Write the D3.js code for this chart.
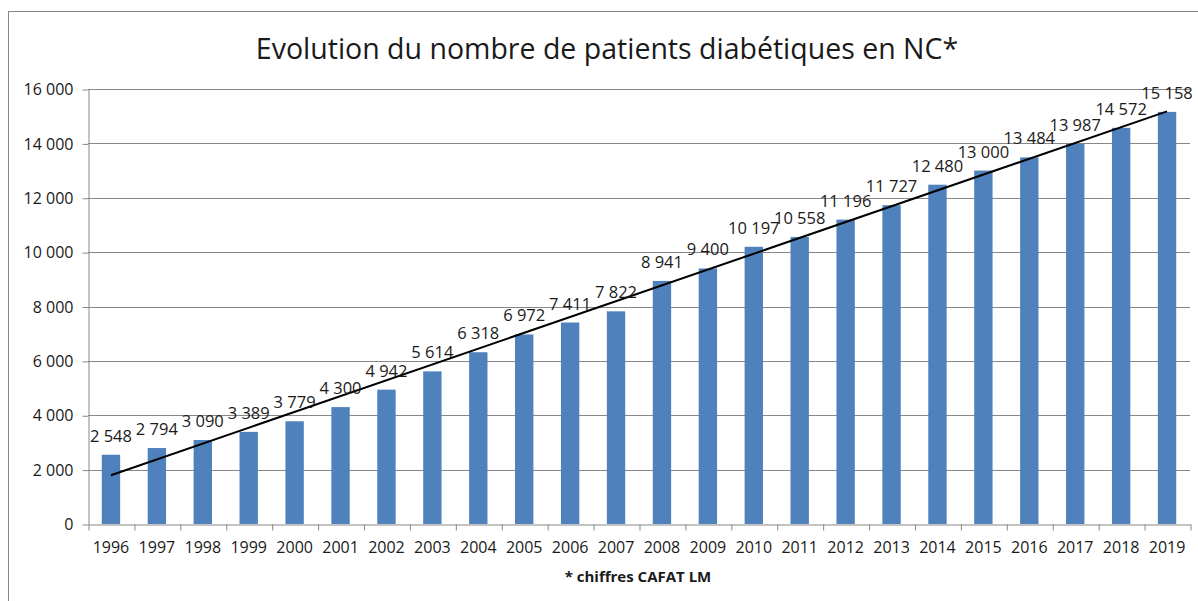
<!DOCTYPE html>
<html>
<head>
<meta charset="utf-8">
<script src="https://cdn.jsdelivr.net/npm/d3@7"></script>
<style>
  body { margin: 0; background: #fff; }
  svg text { font-family: 'Open Sans', 'Liberation Sans', sans-serif; fill: #1a1a1a; }
</style>
</head>
<body>
<svg id="chart" width="1198" height="601"></svg>
<script>
const years = ['1996', '1997', '1998', '1999', '2000', '2001', '2002', '2003', '2004', '2005', '2006', '2007',
  '2008', '2009', '2010', '2011', '2012', '2013', '2014', '2015', '2016', '2017', '2018', '2019']
const patients = [2548, 2794, 3090, 3389, 3779, 4300, 4942, 5614, 6318, 6972, 7411, 7822,
  8941, 9400, 10197, 10558, 11196, 11727, 12480, 13000, 13484, 13987, 14572, 15158]
const yTicks = [0, 2000, 4000, 6000, 8000, 10000, 12000, 14000, 16000]
const title = 'Evolution du nombre de patients diabétiques en NC*'
const note = '* chiffres CAFAT LM'

const plotLeft = 88
const plotRight = 1190
const plotTop = 89
const plotBottom = 524
const gridColor = '#878787'

const svg = d3.select('#chart')
// nombres à la française : espace comme séparateur de milliers
const fr = d3.formatLocale({ decimal: ',', thousands: ' ', grouping: [3], currency: ['', ' €'] })
const fmt = fr.format(',d')

// cadre du graphique (dépasse à droite et en bas)
svg.append('rect')
   .attr('x', 8.5).attr('y', 11.5)
   .attr('width', 1300).attr('height', 700)
   .attr('fill', 'none')
   .attr('stroke', gridColor)

const x = d3.scaleBand()
            .domain(years)
            .range([plotLeft, plotRight])
            .paddingInner(0.6)
            .paddingOuter(0.3)
const xEdge = d3.scaleLinear().domain([0, years.length]).range([plotLeft, plotRight])
const y = d3.scaleLinear().domain([0, 16000]).range([plotBottom, plotTop])

// quadrillage
svg.append('g')
   .selectAll('line')
   .data(yTicks.filter(d => d !== 0))
   .join('line')
   .attr('x1', plotLeft).attr('x2', plotRight)
   .attr('y1', d => Math.round(y(d)) + 0.5).attr('y2', d => Math.round(y(d)) + 0.5)
   .attr('stroke', gridColor)

// barres
svg.append('g')
   .selectAll('rect')
   .data(patients)
   .join('rect')
   .attr('x', (d, i) => x(years[i]))
   .attr('y', d => y(d))
   .attr('width', x.bandwidth())
   .attr('height', d => plotBottom - y(d))
   .attr('fill', '#4f81bd')

// axe Y
const yAxis = svg.append('g')
                 .attr('transform', `translate(${plotLeft + 0.5},0.5)`)
                 .call(d3.axisLeft(y).tickValues(yTicks).tickSize(6).tickSizeOuter(0).tickPadding(9).tickFormat(fmt))
yAxis.select('.domain').attr('stroke', gridColor)
yAxis.selectAll('line').attr('stroke', gridColor)
yAxis.selectAll('text').attr('font-size', '16px').attr('fill', '#1a1a1a')

// axe X : graduations entre les catégories
const xTickAxis = svg.append('g')
                     .attr('transform', `translate(0.5,${plotBottom + 0.5})`)
                     .call(d3.axisBottom(xEdge).tickValues(d3.range(years.length + 1)).tickSize(6).tickSizeOuter(0).tickFormat(''))
xTickAxis.select('.domain').attr('stroke', gridColor)
xTickAxis.selectAll('line').attr('stroke', gridColor)

// libellés des années
svg.append('g')
   .selectAll('text')
   .data(years)
   .join('text')
   .attr('x', d => x(d) + x.bandwidth() / 2)
   .attr('y', 553)
   .attr('text-anchor', 'middle')
   .attr('font-size', '16px')
   .text(d => d)

// courbe de tendance linéaire (moindres carrés sur l'index)
const n = patients.length
const mx = d3.mean(d3.range(n))
const my = d3.mean(patients)
const slope = d3.sum(patients, (v, i) => (i - mx) * (v - my)) / d3.sum(d3.range(n), i => (i - mx) ** 2)
const icpt = my - slope * mx
const cx = i => x(years[i]) + x.bandwidth() / 2
svg.append('line')
   .attr('x1', cx(0)).attr('y1', y(icpt))
   .attr('x2', cx(n - 1)).attr('y2', y(icpt + slope * (n - 1)))
   .attr('stroke', '#000')
   .attr('stroke-width', 2)

// étiquettes de données
svg.append('g')
   .selectAll('text')
   .data(patients)
   .join('text')
   .attr('x', (d, i) => cx(i))
   .attr('y', d => y(d) - 13)
   .attr('text-anchor', 'middle')
   .attr('font-size', '16.5px')
   .text(d => fmt(d))

// titre
svg.append('text')
   .attr('x', 607)
   .attr('y', 59)
   .attr('text-anchor', 'middle')
   .attr('font-size', '28.5px')
   .text(title)

// source
svg.append('text')
   .attr('x', 638)
   .attr('y', 582)
   .attr('text-anchor', 'middle')
   .attr('font-size', '15px')
   .attr('font-weight', 'bold')
   .text(note)
</script>
</body>
</html>
